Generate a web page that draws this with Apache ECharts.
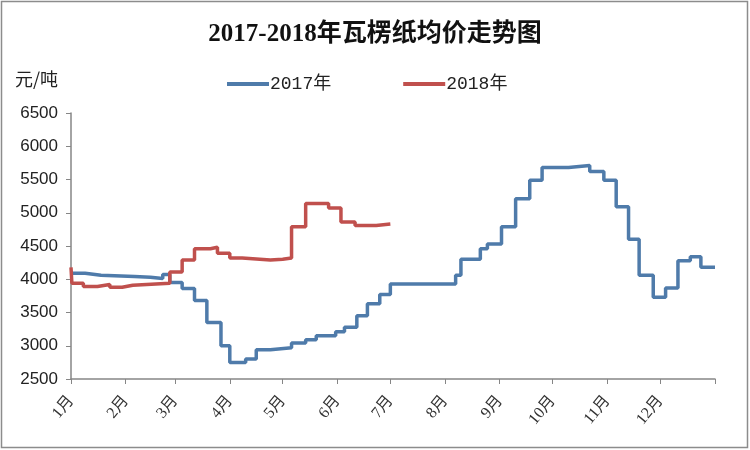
<!DOCTYPE html>
<html>
<head>
<meta charset="utf-8">
<script src="https://cdn.jsdelivr.net/npm/echarts@6/dist/echarts.min.js"></script>
<style>html,body{margin:0;padding:0;background:#fff}#c{width:750px;height:450px}</style>
</head>
<body>
<div id="c"></div>
<script>
// Month tick labels and month-start day-of-year positions
const monthLabels = ['1月','2月','3月','4月','5月','6月','7月','8月','9月','10月','11月','12月'];
const monthStarts = [0,31,59,90,120,151,181,212,243,273,304,334];
const yearEnd = 365;

// 2017 average price (day of year where each price level begins)
const days2017 = [0,8,17,36,45,52,56,63,70,77,85,90,99,105,113,125,133,139,150,155,162,168,175,181,218,221,232,236,244,252,260,267,282,294,302,309,316,322,330,337,344,351,357,365];
const prices2017 = [4090,4060,4040,4030,4010,4070,3950,3860,3680,3350,3000,2750,2800,2940,2970,3040,3090,3150,3210,3280,3450,3630,3770,3930,4060,4300,4460,4530,4790,5210,5490,5680,5710,5620,5490,5090,4600,4060,3730,3870,4280,4340,4180,4180];

// 2018 average price
const days2018 = [0,0.5,7,15,22,29,35,56,63,70,79,83,90,97,113,120,125,133,146,153,161,173,181];
const prices2018 = [4180,3940,3890,3920,3880,3910,3940,4110,4290,4460,4480,4390,4320,4290,4300,4320,4790,5140,5070,4860,4810,4830,4830];

const yTicks = {min:2500, max:6500, interval:500};

const pairs = (d, v) => d.map((x, i) => [x, v[i]]);

const chart = echarts.init(document.getElementById('c'));
chart.setOption({
  backgroundColor: '#fff',
  animation: false,
  title: {
    text: '2017-2018年瓦楞纸均价走势图',
    left: 'center', top: 17,
    textStyle: {fontFamily: "'Liberation Serif','Noto Sans CJK SC'", fontWeight: 'bold', fontSize: 25, color: '#111'}
  },
  graphic: [
    {type: 'rect', shape: {x: 1.5, y: 1.5, width: 746, height: 446}, style: {fill: 'none', stroke: '#8c8c8c', lineWidth: 1.5}, silent: true},
    {type: 'text', left: 15, top: 70, style: {text: '元/吨', font: "18px 'Noto Sans CJK SC'", fill: '#222'}}
  ],
  legend: {
    left: 222, top: 70,
    itemWidth: 42, itemHeight: 4, itemGap: 72,
    icon: 'rect',
    textStyle: {fontSize: 18, color: '#222', fontFamily: "'Liberation Mono','Noto Sans CJK SC'", padding: [0,0,0,-4]},
    data: ['2017年', '2018年']
  },
  grid: {left: 71, right: 35, top: 113, bottom: 71, containLabel: false},
  xAxis: {
    type: 'value', min: 0, max: yearEnd,
    axisLine: {lineStyle: {color: '#868686', width: 1.5}},
    axisTick: {show: true, customValues: monthStarts.concat([yearEnd]), length: 5, lineStyle: {color: '#868686'}},
    axisLabel: {
      customValues: monthStarts,
      rotate: 50, margin: 19,
      fontSize: 16, color: '#333', fontFamily: "'Liberation Serif','Noto Sans CJK SC'",
      formatter: v => monthLabels[monthStarts.indexOf(v)] || ''
    },
    splitLine: {show: false}
  },
  yAxis: {
    type: 'value', min: yTicks.min, max: yTicks.max, interval: yTicks.interval,
    axisLine: {show: true, lineStyle: {color: '#868686', width: 1.5}},
    axisTick: {show: true, length: 5, lineStyle: {color: '#868686'}},
    axisLabel: {fontSize: 17, color: '#222', margin: 13, fontFamily: "'Liberation Sans'", formatter: v => String(v)},
    splitLine: {show: false}
  },
  series: [
    {name: '2017年', type: 'line', step: 'end', showSymbol: false, data: pairs(days2017, prices2017),
     lineStyle: {color: '#4F7BAA', width: 3.5}, itemStyle: {color: '#4F7BAA'}},
    {name: '2018年', type: 'line', step: 'end', showSymbol: false, data: pairs(days2018, prices2018),
     lineStyle: {color: '#C0504D', width: 3.5}, itemStyle: {color: '#C0504D'}}
  ]
});
</script>
</body>
</html>
